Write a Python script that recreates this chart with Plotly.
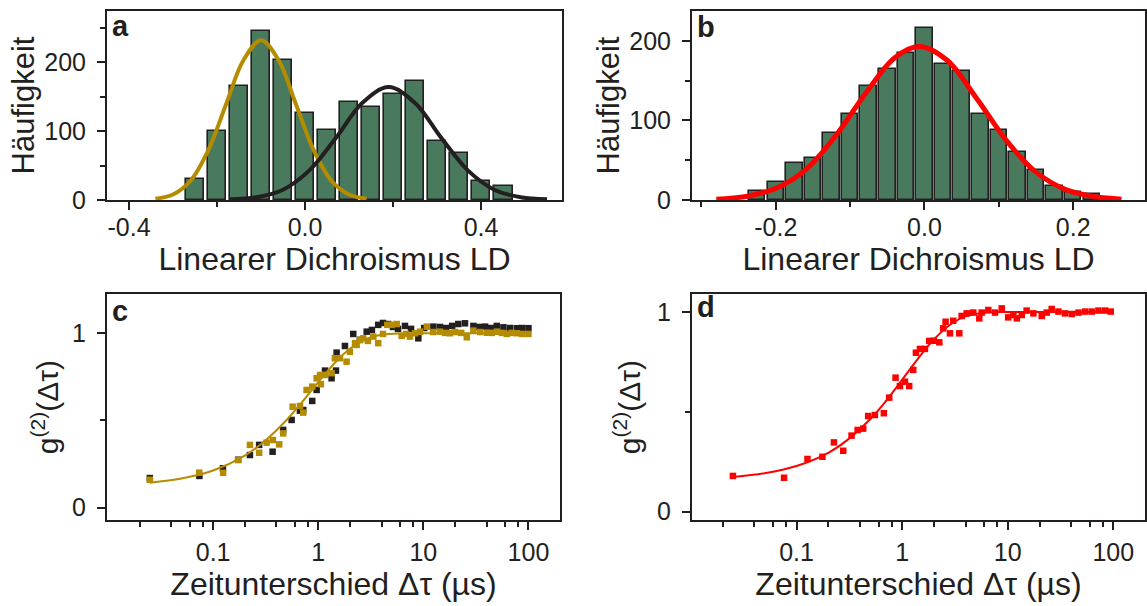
import plotly.graph_objects as go

# ---------------- data ----------------
# panel a: histogram of linear dichroism
a_bin_centers = [-0.25, -0.20, -0.15, -0.10, -0.05, 0.00, 0.05, 0.10, 0.15, 0.20, 0.25, 0.30, 0.35, 0.40, 0.45]
a_counts = [30, 100, 165, 245, 204, 127, 102, 142, 135, 154, 173, 86, 69, 27, 21]
# gold gaussian fit
a_gold_x = [-0.34, -0.30, -0.26, -0.22, -0.18, -0.14, -0.10, -0.06, -0.02, 0.02, 0.06, 0.10, 0.14]
a_gold_y = [2, 8, 28, 72, 138, 203, 232, 203, 138, 72, 28, 8, 2]
# black gaussian fit
a_black_x = [-0.17, -0.11, -0.05, 0.01, 0.07, 0.13, 0.19, 0.25, 0.31, 0.37, 0.43, 0.49, 0.55]
a_black_y = [1, 4, 15, 43, 90, 141, 164, 141, 90, 43, 15, 4, 1]

# panel b
b_bin_centers = [-0.225, -0.2, -0.175, -0.15, -0.125, -0.1, -0.075, -0.05, -0.025, 0.0,
                 0.025, 0.05, 0.075, 0.1, 0.125, 0.15, 0.175, 0.2, 0.225]
b_counts = [11, 23, 47, 53, 84, 108, 143, 165, 185, 216, 171, 162, 108, 88, 60, 38, 17, 10, 8]
b_red_x = [-0.28, -0.24, -0.20, -0.16, -0.12, -0.08, -0.04, -0.007, 0.03, 0.07, 0.11, 0.15, 0.19, 0.23, 0.265]
b_red_y = [1, 4.5, 14.6, 38, 80, 133, 179, 193, 176, 128, 75, 35, 13, 4, 1]

# panel c: g2 black data
c_black_x = [0.025, 0.074, 0.124, 0.173, 0.224, 0.274, 0.368, 0.464, 0.558, 0.67, 0.72, 0.877, 0.966,
             1.16, 1.34, 1.475, 1.496, 1.795, 2.153, 2.49, 2.89, 3.24, 3.72, 4.13, 4.61, 5.14, 5.74,
             6.69, 7.64, 8.96, 10.2, 12.45, 14.4, 16.4, 18.8, 21.5, 24.9, 29.9, 33.9, 38.7, 44.1,
             50.0, 57.8, 66.9, 77.6, 87.1, 100]
c_black_y = [0.17, 0.182, 0.226, 0.275, 0.302, 0.36, 0.321, 0.446, 0.503, 0.556, 0.56, 0.612, 0.675,
             0.786, 0.742, 0.786, 0.889, 0.927, 0.996, 0.962, 1.009, 1.019, 1.048, 1.059, 1.053, 1.036, 1.025,
             1.042, 1.025, 0.971, 1.03, 1.038, 1.036, 1.03, 1.042, 1.053, 1.057, 1.042, 1.036, 1.038, 1.03,
             1.042, 1.034, 1.03, 1.029, 1.03, 1.029]
c_gold_x = [0.025, 0.0738, 0.1245, 0.173, 0.224, 0.274, 0.323, 0.37, 0.425, 0.464, 0.571, 0.67, 0.72,
            0.775, 0.877, 0.966, 1.04, 1.06, 1.16, 1.34, 1.44, 1.61, 1.86, 2.0, 2.24, 2.32, 2.5, 2.68,
            2.97, 3.34, 3.72, 4.13, 4.54, 5.0, 5.58, 6.22, 6.84, 7.46, 8.34, 9.31, 10.8, 12.4, 14.4,
            16.1, 17.9, 20.0, 22.9, 25.9, 29.9, 34.7, 40.2, 44.8, 50.0, 55.8, 62.3, 69.5, 77.6, 87.1, 100]
c_gold_y = [0.16, 0.201, 0.2, 0.273, 0.36, 0.315, 0.373, 0.388, 0.363, 0.426, 0.579, 0.583, 0.545,
            0.675, 0.694, 0.742, 0.761, 0.708, 0.761, 0.771, 0.857, 0.857, 0.837, 0.894, 0.943, 0.933, 0.962,
            0.971, 0.956, 0.981, 0.943, 0.996, 1.048, 1.048, 1.053, 0.985, 0.996, 0.981, 1.0, 1.009, 1.038,
            1.007, 1.009, 1.002, 1.0, 1.007, 1.002, 0.977, 1.015, 1.007, 1.003, 1.002, 1.009, 1.002, 0.996,
            1.002, 1.0, 0.996, 0.996]
c_fit_x = [0.025, 0.05, 0.1, 0.2, 0.3, 0.5, 0.7, 1.0, 1.5, 2, 3, 4, 6, 10, 30, 100]
c_fit_y = [0.143, 0.167, 0.213, 0.299, 0.375, 0.503, 0.604, 0.719, 0.842, 0.911, 0.972, 0.991, 0.999, 1.0, 1.0, 1.0]

# panel d: g2 red data
d_x = [0.025, 0.0762, 0.127, 0.176, 0.226, 0.277, 0.332, 0.379, 0.428, 0.477, 0.552, 0.672, 0.755,
       0.867, 0.953, 1.064, 1.167, 1.274, 1.352, 1.475, 1.645, 1.807, 2.0, 2.25, 2.45, 2.58, 2.84,
       3.05, 3.48, 3.66, 4.09, 4.72, 5.38, 5.67, 6.55, 7.58, 8.78, 10.1, 11.3, 12.2, 13.6, 15.1,
       17.5, 21.0, 23.4, 26.1, 30.2, 34.9, 40.4, 46.8, 54.1, 62.5, 72.3, 83.6, 94.6]
d_y = [0.179, 0.170, 0.264, 0.275, 0.347, 0.305, 0.381, 0.409, 0.416, 0.479, 0.484, 0.493, 0.571,
       0.671, 0.629, 0.651, 0.629, 0.71, 0.796, 0.815, 0.815, 0.855, 0.856, 0.848, 0.918, 0.951, 0.893,
       0.956, 0.893, 0.98, 0.993, 0.997, 0.968, 0.997, 1.01, 0.997, 1.018, 0.973, 0.985, 0.968, 0.985, 1.007,
       0.993, 0.98, 0.997, 1.015, 1.002, 0.993, 0.99, 0.997, 1.002, 1.002, 1.007, 1.007, 1.002]
d_fit_x = [0.025, 0.05, 0.1, 0.2, 0.3, 0.5, 0.7, 1.0, 1.5, 2, 3, 4, 6, 10, 30, 100]
d_fit_y = [0.174, 0.193, 0.229, 0.295, 0.357, 0.464, 0.553, 0.66, 0.784, 0.863, 0.945, 0.978, 0.996, 1.0, 1.0, 1.0]

# ---------------- styling ----------------
W, H = 1147, 606
INK = "#231f20"
GREEN = "#4a7a5d"
GOLD = "#b58c00"
RED = "#ff0000"
FONT = "Liberation Sans, Arial, sans-serif"
TICK_SIZE = 25
TITLE_SIZE = 32


def xdom(l, r):
    return [l / W, r / W]


def ydom(t, b):
    return [1 - b / H, 1 - t / H]


fig = go.Figure()

# panel a
fig.add_trace(go.Bar(x=a_bin_centers, y=a_counts, width=0.043, marker=dict(color=GREEN, line=dict(color=INK, width=1.6)),
                     xaxis="x", yaxis="y", showlegend=False))
fig.add_trace(go.Scatter(x=a_gold_x, y=a_gold_y, mode="lines", line=dict(color=GOLD, width=4, shape="spline"),
                         xaxis="x", yaxis="y", showlegend=False))
fig.add_trace(go.Scatter(x=a_black_x, y=a_black_y, mode="lines", line=dict(color=INK, width=4, shape="spline"),
                         xaxis="x", yaxis="y", showlegend=False))
# panel b
fig.add_trace(go.Bar(x=b_bin_centers, y=b_counts, width=0.0222, marker=dict(color=GREEN, line=dict(color=INK, width=1.6)),
                     xaxis="x2", yaxis="y2", showlegend=False))
fig.add_trace(go.Scatter(x=b_red_x, y=b_red_y, mode="lines", line=dict(color=RED, width=5, shape="spline"),
                         xaxis="x2", yaxis="y2", showlegend=False))
# panel c
fig.add_trace(go.Scatter(x=c_black_x, y=c_black_y, mode="markers", marker=dict(symbol="square", size=6.5, color=INK),
                         xaxis="x3", yaxis="y3", showlegend=False))
fig.add_trace(go.Scatter(x=c_gold_x, y=c_gold_y, mode="markers", marker=dict(symbol="square", size=6.5, color=GOLD),
                         xaxis="x3", yaxis="y3", showlegend=False))
fig.add_trace(go.Scatter(x=c_fit_x, y=c_fit_y, mode="lines", line=dict(color=GOLD, width=2, shape="spline"),
                         xaxis="x3", yaxis="y3", showlegend=False))
# panel d
fig.add_trace(go.Scatter(x=d_x, y=d_y, mode="markers", marker=dict(symbol="square", size=6.5, color=RED),
                         xaxis="x4", yaxis="y4", showlegend=False))
fig.add_trace(go.Scatter(x=d_fit_x, y=d_fit_y, mode="lines", line=dict(color=RED, width=2, shape="spline"),
                         xaxis="x4", yaxis="y4", showlegend=False))

common = dict(showline=True, linecolor=INK, linewidth=2, mirror=True, ticks="outside", ticklen=8, tickwidth=2,
              tickcolor=INK, showgrid=False, zeroline=False, automargin=False,
              tickfont=dict(family=FONT, size=TICK_SIZE, color=INK))


def minor(vals):
    return dict(tickmode="array", tickvals=vals, ticks="outside", ticklen=5, tickwidth=2, tickcolor=INK, showgrid=False)


log_minor = [m * 10 ** e for e in (-2, -1, 0, 1) for m in (2, 4, 6, 8)]

xt_lin = dict(text="Linearer Dichroismus LD", font=dict(family=FONT, size=TITLE_SIZE, color=INK), standoff=2)
xt_log = dict(text="Zeitunterschied Δτ (µs)", font=dict(family=FONT, size=TITLE_SIZE, color=INK), standoff=3)
yt_h = dict(text="Häufigkeit", font=dict(family=FONT, size=31, color=INK), standoff=0)
yt_gc = dict(text="g<sup>(2)</sup>(Δτ)", font=dict(family=FONT, size=30, color=INK), standoff=5)
yt_gd = dict(text="g<sup>(2)</sup>(Δτ)", font=dict(family=FONT, size=30, color=INK), standoff=8)

fig.update_layout(
    width=W, height=H, margin=dict(l=0, r=0, t=0, b=0),
    paper_bgcolor="white", plot_bgcolor="white", showlegend=False, bargap=0,
    xaxis=dict(domain=xdom(107, 562), range=[-0.45, 0.584], tickmode="array", tickvals=[-0.4, 0.0, 0.4],
               ticktext=["-0.4", "0.0", "0.4"], minor=minor([-0.2, 0.2]), title=xt_lin, anchor="y",
               ticklabelstandoff=-4, **common),
    yaxis=dict(domain=ydom(11, 200), range=[0, 274.6], tickmode="array", tickvals=[0, 100, 200],
               minor=minor([50, 150, 250]), title=yt_h, anchor="x", ticklabelstandoff=6, **common),
    xaxis2=dict(domain=xdom(692, 1145), range=[-0.3127, 0.2966], tickmode="array", tickvals=[-0.2, 0.0, 0.2],
                ticktext=["-0.2", "0.0", "0.2"], minor=minor([-0.3, -0.1, 0.1]), title=xt_lin, anchor="y2",
                ticklabelstandoff=-4, **common),
    yaxis2=dict(domain=ydom(11, 200), range=[0, 237.7], tickmode="array", tickvals=[0, 100, 200],
                minor=minor([50, 150]), title=yt_h, anchor="x2", ticklabelstandoff=6, **common),
    xaxis3=dict(domain=xdom(107, 560), type="log", range=[-2.0095, 2.3], tickmode="array", tickvals=[0.1, 1, 10, 100],
                ticktext=["0.1", "1", "10", "100"], minor=minor(log_minor), title=xt_log, anchor="y3",
                ticklabelstandoff=1, **common),
    yaxis3=dict(domain=ydom(294, 520), range=[-0.0705, 1.225], tickmode="array", tickvals=[0, 1],
                minor=minor([0.5]), title=yt_gc, anchor="x3", ticklabelstandoff=6, **common),
    xaxis4=dict(domain=xdom(692, 1145), type="log", range=[-1.9896, 2.30], tickmode="array", tickvals=[0.1, 1, 10, 100],
                ticktext=["0.1", "1", "10", "100"], minor=minor(log_minor), title=xt_log, anchor="y4",
                ticklabelstandoff=1, **common),
    yaxis4=dict(domain=ydom(294, 520), range=[-0.0416, 1.09], tickmode="array", tickvals=[0, 1],
                minor=minor([0.5]), title=yt_gd, anchor="x4", ticklabelstandoff=6, **common),
)

labels = [("a", 110, 8), ("b", 695, 9), ("c", 110, 293), ("d", 695, 289)]
for t, px, py in labels:
    fig.add_annotation(text=f"<b>{t}</b>", xref="paper", yref="paper", x=px / W, y=1 - py / H,
                       xanchor="left", yanchor="top", showarrow=False,
                       font=dict(family=FONT, size=29, color=INK))

fig.write_html("out.html", config={"displayModeBar": False},
               post_script="document.body.style.margin='0px';document.body.style.overflow='hidden';")
